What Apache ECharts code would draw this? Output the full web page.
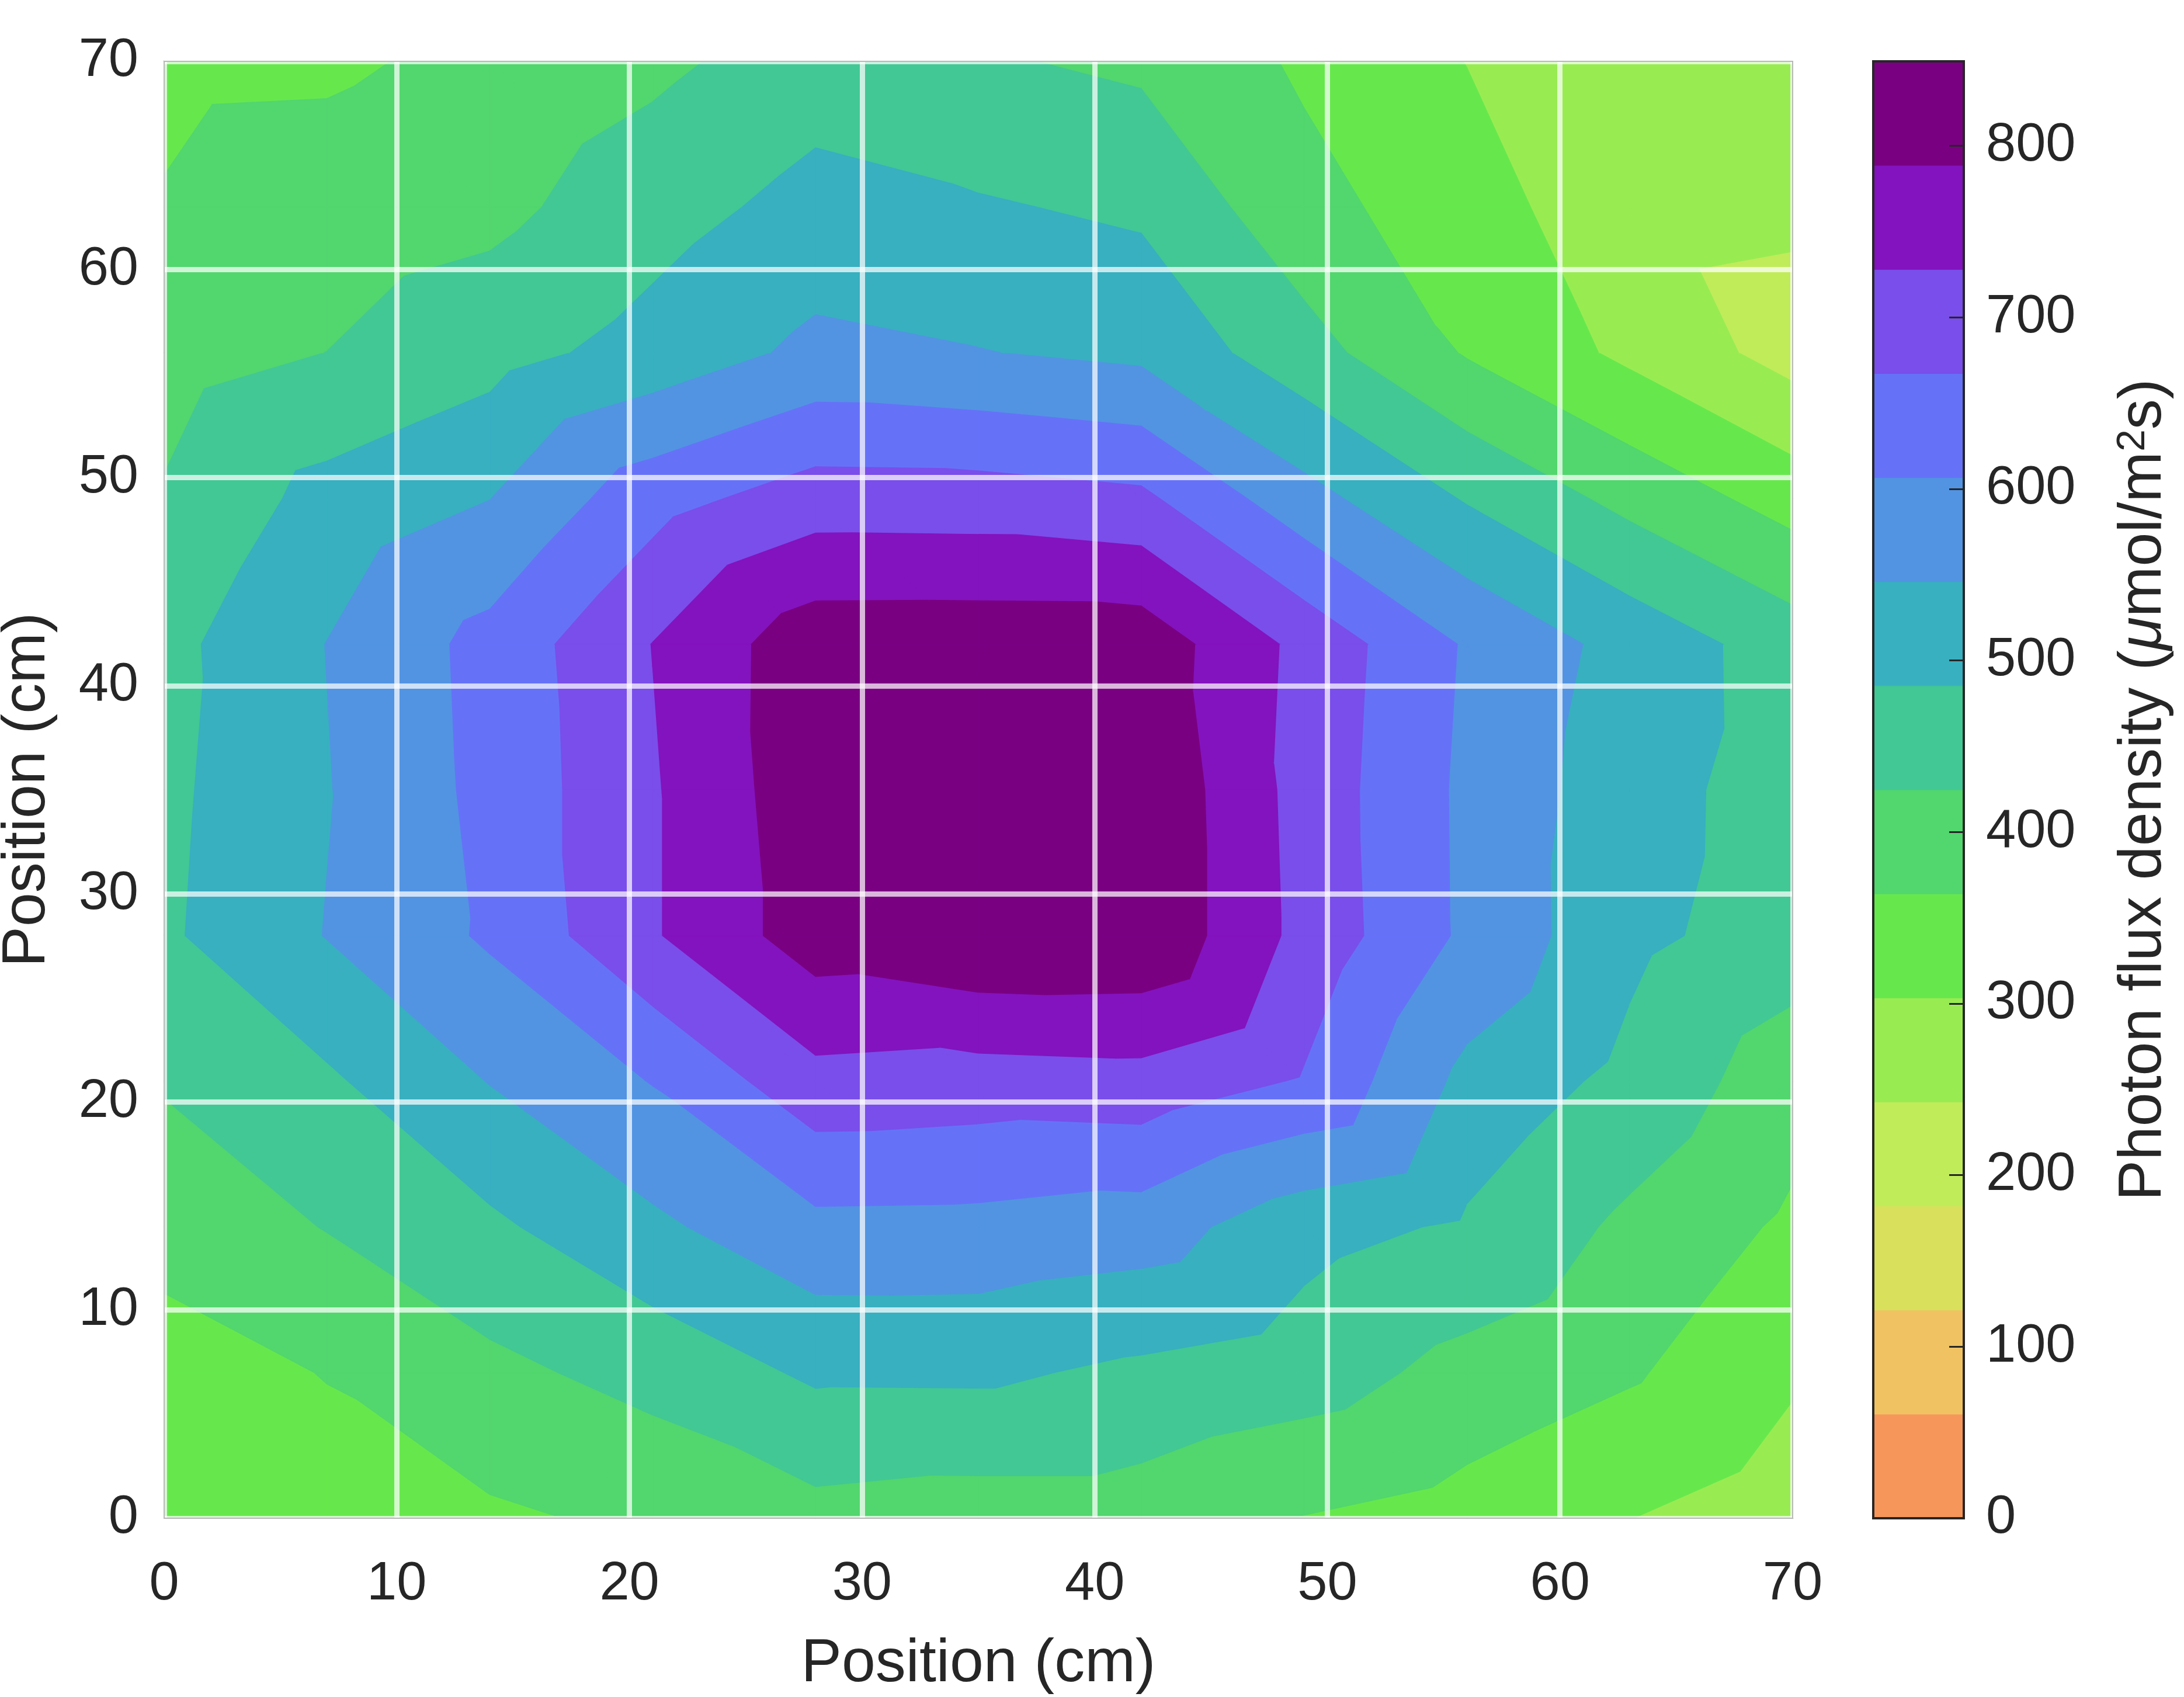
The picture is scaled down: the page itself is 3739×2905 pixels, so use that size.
<!DOCTYPE html>
<html>
<head>
<meta charset="utf-8">
<script src="https://cdn.jsdelivr.net/npm/echarts@6/dist/echarts.min.js"></script>
<style>
html,body{margin:0;padding:0;background:#ffffff;}
#chart{width:3739px;height:2905px;}
</style>
</head>
<body>
<div id="chart"></div>
<script>
// ---- measurement grid (cm) ----
const xPositions = [0, 7, 14, 21, 28, 35, 42, 49, 56, 63, 70];
const yPositions = [0, 7, 14, 21, 28, 35, 42, 49, 56, 63, 70];

// ---- photon flux density, one row per y position (µmol/m²s) ----
const fluxY0  = [330, 340, 355, 375, 405, 395, 395, 362, 340, 304, 271];
const fluxY7  = [340, 366, 410, 445, 495, 496, 473, 453, 405, 371, 311];
const fluxY14 = [384, 427, 474, 534, 590, 588, 575, 507, 477, 412, 353];
const fluxY21 = [430, 476, 548, 609, 708, 700, 706, 662, 529, 468, 390];
const fluxY28 = [476, 548, 615, 722, 820, 845, 842, 709, 595, 500, 456];
const fluxY35 = [472, 543, 623, 722, 828, 849, 842, 705, 594, 510, 457];
const fluxY42 = [467, 547, 626, 729, 827, 828, 827, 710, 600, 524, 456];
const fluxY49 = [430, 506, 545, 644, 697, 695, 680, 567, 480, 406, 338];
const fluxY56 = [398, 425, 463, 508, 560, 548, 532, 448, 359, 290, 219];
const fluxY63 = [367, 390, 408, 460, 506, 491, 475, 383, 331, 260, 253];
const fluxY70 = [353, 355, 378, 411, 455, 431, 413, 355, 302, 280, 265];

// ---- contour levels / colour bar ----
const levelMax = 849.2;
const levelCount = 14;
const bandColors = ['#F7965A', '#F0C262', '#D9E05C', '#C0EC5A', '#98EC52', '#66E84C', '#52D66E',
                    '#42C894', '#38B0C0', '#5294E2', '#6572F8', '#7A4EEA', '#8313BE', '#7A0082'];
const colorbarTickStep = 100;

const flux = [fluxY0, fluxY7, fluxY14, fluxY21, fluxY28, fluxY35, fluxY42, fluxY49, fluxY56, fluxY63, fluxY70];
const levels = [];
for (let k = 0; k <= levelCount; k++) levels.push(k * levelMax / levelCount);

// clip a polygon (points [x,y,v]) against v >= level (above) or v <= level (below), linear on edges
function clipPoly(pts, level, keepAbove) {
  const out = [];
  for (let i = 0; i < pts.length; i++) {
    const a = pts[i], b = pts[(i + 1) % pts.length];
    const ina = keepAbove ? a[2] >= level : a[2] <= level;
    const inb = keepAbove ? b[2] >= level : b[2] <= level;
    if (ina) out.push(a);
    if (ina !== inb) {
      const t = (level - a[2]) / (b[2] - a[2]);
      out.push([a[0] + t * (b[0] - a[0]), a[1] + t * (b[1] - a[1]), level]);
    }
  }
  return out;
}

// filled contour bands over a triangulated grid
const polys = [];
for (let j = 0; j < yPositions.length - 1; j++) {
  for (let i = 0; i < xPositions.length - 1; i++) {
    const x0 = xPositions[i], x1 = xPositions[i + 1], y0 = yPositions[j], y1 = yPositions[j + 1];
    const p00 = [x0, y0, flux[j][i]], p10 = [x1, y0, flux[j][i + 1]];
    const p01 = [x0, y1, flux[j + 1][i]], p11 = [x1, y1, flux[j + 1][i + 1]];
    const tris = [[p00, p10, p01], [p10, p11, p01]];
    for (const tri of tris) {
      for (let k = 0; k < levelCount; k++) {
        let poly = tri;
        if (k > 0) poly = clipPoly(poly, levels[k], true);
        if (poly.length >= 3 && k < levelCount - 1) poly = clipPoly(poly, levels[k + 1], false);
        if (poly.length >= 3) polys.push({ band: k, pts: poly });
      }
    }
  }
}
const contourData = polys.map((p, idx) => {
  let cx = 0, cy = 0;
  p.pts.forEach(q => { cx += q[0]; cy += q[1]; });
  return [cx / p.pts.length, cy / p.pts.length, idx];
});
const colorbarData = bandColors.map((c, k) => [0.5, (levels[k] + levels[k + 1]) / 2, k]);

const FONT = 'Liberation Sans';
const TXT = '#262626';

const chart = echarts.init(document.getElementById('chart'), null, { renderer: 'canvas', width: 3739, height: 2905 });
chart.setOption({
  animation: false,
  backgroundColor: '#ffffff',
  textStyle: { fontFamily: FONT },
  grid: [
    { left: 281, top: 105, width: 2788, height: 2494, show: true, borderColor: '#b8b8b8', borderWidth: 2,
      backgroundColor: 'transparent', z: 6, containLabel: false, outerBoundsMode: 'none' },
    { left: 3207, top: 105, width: 155, height: 2494, show: true, borderColor: '#262626', borderWidth: 4,
      backgroundColor: 'transparent', z: 6, containLabel: false, outerBoundsMode: 'none' }
  ],
  xAxis: [
    {
      gridIndex: 0, type: 'value', min: 0, max: 70, interval: 10, z: 5,
      axisLine: { show: false }, axisTick: { show: false },
      splitLine: { show: true, lineStyle: { color: 'rgba(255,255,255,0.72)', width: 9 } },
      axisLabel: { fontSize: 92, color: TXT, margin: 68, fontFamily: FONT },
      name: 'Position (cm)', nameLocation: 'middle', nameGap: 198,
      nameTextStyle: { fontSize: 104, color: TXT, fontFamily: FONT }
    },
    { gridIndex: 1, type: 'value', min: 0, max: 1, show: false }
  ],
  yAxis: [
    {
      gridIndex: 0, type: 'value', min: 0, max: 70, interval: 10, z: 5,
      axisLine: { show: false }, axisTick: { show: false },
      splitLine: { show: true, lineStyle: { color: 'rgba(255,255,255,0.72)', width: 9 } },
      axisLabel: { fontSize: 92, color: TXT, margin: 44, fontFamily: FONT },
      name: 'Position (cm)', nameLocation: 'middle', nameGap: 182, nameRotate: 90,
      nameTextStyle: { fontSize: 104, color: TXT, fontFamily: FONT }
    },
    {
      gridIndex: 1, type: 'value', position: 'right', min: 0, max: levelMax, interval: colorbarTickStep, z: 8,
      axisLine: { show: false, onZero: false },
      axisTick: { show: true, inside: true, length: 25, lineStyle: { color: TXT, width: 3 } },
      splitLine: { show: false },
      axisLabel: {
        fontSize: 92, color: TXT, margin: 38, fontFamily: FONT, showMaxLabel: false,
        formatter: function (v) { return (Math.abs(v % colorbarTickStep) < 1e-6) ? String(v) : ''; }
      },
      name: '{a|Photon flux density (}{it|μ}{a|mol/m}{sup|2}{a|s)}',
      nameLocation: 'middle', nameGap: 256, nameRotate: 90,
      nameTextStyle: {
        color: TXT, fontSize: 104, fontFamily: FONT,
        rich: {
          a: { fontSize: 104, color: TXT, fontFamily: FONT },
          it: { fontSize: 104, color: TXT, fontFamily: FONT, fontStyle: 'italic' },
          sup: { fontSize: 68, color: TXT, fontFamily: FONT, verticalAlign: 'top' }
        }
      }
    }
  ],
  series: [
    {
      type: 'custom', name: 'contour', xAxisIndex: 0, yAxisIndex: 0,
      dimensions: ['x', 'y', 'idx'], encode: { x: 0, y: 1 },
      data: contourData, z: 2, silent: true,
      renderItem: function (params, api) {
        const p = polys[api.value(2)];
        const pts = p.pts.map(q => api.coord([q[0], q[1]]));
        const c = bandColors[p.band];
        return { type: 'polygon', shape: { points: pts }, style: { fill: c, stroke: c, lineWidth: 1.5 } };
      }
    },
    {
      type: 'custom', name: 'colorbar', xAxisIndex: 1, yAxisIndex: 1,
      dimensions: ['x', 'y', 'band'], encode: { x: 0, y: 1 },
      data: colorbarData, z: 2, silent: true,
      renderItem: function (params, api) {
        const k = api.value(2);
        const a = api.coord([0, levels[k]]);
        const b = api.coord([1, levels[k + 1]]);
        return { type: 'rect', shape: { x: a[0], y: b[1], width: b[0] - a[0], height: a[1] - b[1] },
                 style: { fill: bandColors[k], stroke: bandColors[k], lineWidth: 1 } };
      }
    }
  ]
});
</script>
</body>
</html>
